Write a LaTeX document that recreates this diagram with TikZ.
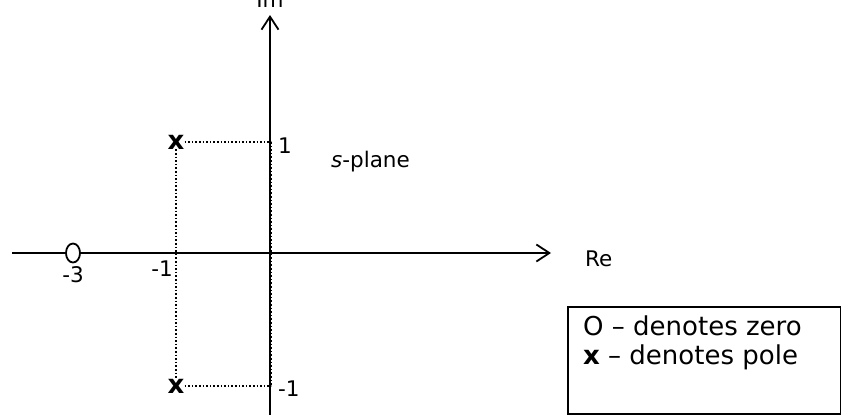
\documentclass[tikz,border=0pt]{standalone}
\usepackage{fontspec}
\setmainfont{DejaVu Sans}
\usetikzlibrary{arrows.meta,positioning,shapes.geometric}

\begin{document}
\begin{tikzpicture}[
  x=1pt,y=-1pt,
  lbl/.style={font=\fontsize{21.5}{24}\selectfont,inner sep=0pt},
  axis/.style={line width=2.3pt},
  imaxis/.style={line width=1.8pt},
  tip/.style={-{Straight Barb[length=13pt,width=17pt,line width=1.8pt]}},
  zero/.style={ellipse,draw,line width=1.8pt,minimum width=14pt,minimum height=19pt,inner sep=0pt},
  pole/.style={font=\fontsize{26}{28}\selectfont\bfseries,inner sep=0pt},
  guide/.style={dotted,line width=1.6pt},
  legend/.style={draw,line width=1.6pt,minimum width=273pt,minimum height=107pt,inner sep=0pt},
]
\useasboundingbox (0,0) rectangle (841,415);

% axes
\coordinate (reL) at (12,253);
\coordinate (reR) at (551,253);
\coordinate (imB) at (270,420);
\coordinate (imT) at (270,15);
\node[zero] (z) at (73,253) {};
\draw[axis] (reL) -- (z);
\draw[axis,tip] (z) -- (reR);
\draw[imaxis,tip] (imB) -- (imT);

% poles and guides
\node[pole] (p1) at (176,142) {x};
\node[pole] (p2) at (176,386) {x};
\coordinate (a1) at (271,142);
\coordinate (a2) at (271,386);
\draw[guide] (p1.east) -- (a1);
\draw[guide] (p2.east) -- (a2);
\draw[guide] (p1.south) -- (p2.north);
\draw[guide] (a1) -- (a2);

% labels
\node[lbl,anchor=base] (im) at (270,8) {Im};
\node[lbl,anchor=base west] (re) at (585,266) {Re};
\node[lbl,anchor=base] (m3) at (73,282) {-3};
\node[lbl,anchor=base east] (m1) at (173,276) {-1};
\node[lbl,anchor=base west] (one) at (278,153) {1};
\node[lbl,anchor=base west] (mone) at (278,396) {-1};
\node[lbl,anchor=base west] (splane) at (331,167) {\textit{s}-plane};

% legend
\node[legend,anchor=north west] (key) at (567,306) {};
\node[anchor=north west,align=left,inner sep=0pt,font=\fontsize{26}{29}\selectfont]
  (keytxt) at (583,316) {O -- denotes zero\\\textbf{x} -- denotes pole};
\end{tikzpicture}
\end{document}
